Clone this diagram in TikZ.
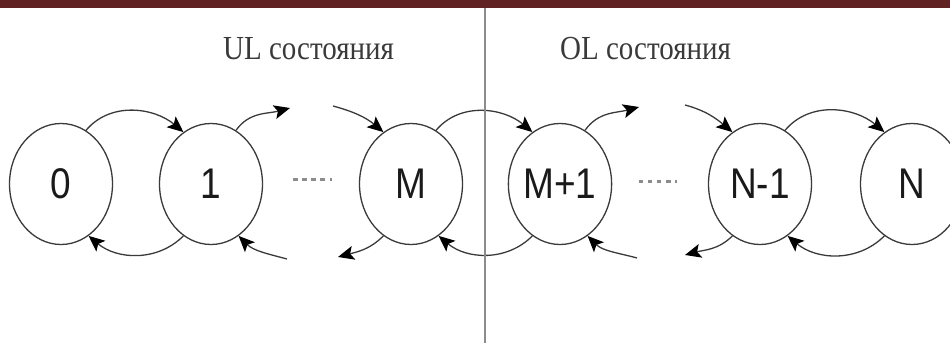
\documentclass[tikz,border=0pt]{standalone}
\usepackage{fontspec}
\setmainfont{Liberation Serif}
\newfontfamily\labfont{Liberation Sans}
\usetikzlibrary{arrows.meta,shapes.geometric}
\definecolor{linec}{HTML}{3A3A3A}
\definecolor{textc}{HTML}{1A1A1A}
\definecolor{ttlc}{HTML}{3A3A3A}
\definecolor{barc}{HTML}{602222}
\definecolor{vlinec}{HTML}{8C8C8C}
\newcommand{\vstretch}[1]{\scalebox{1}[1.16]{#1}}
\begin{document}
\begin{tikzpicture}[x=1pt,y=1pt,
  st/.style={ellipse,draw=linec,line width=1.3pt,minimum width=103pt,minimum height=121pt,inner sep=0pt,font=\labfont\fontsize{37}{40}\selectfont,text=textc},
  tr/.style={draw=linec,line width=1.3pt,-{Stealth[length=16pt,width=14pt,inset=3.5pt,fill=black,color=black]}},
  dotline/.style={draw=vlinec,line width=3pt,dash pattern=on 4.5pt off 4.6pt},
  ttl/.style={anchor=base west,inner sep=0pt,font=\fontsize{29}{32}\selectfont,text=ttlc},
  vline/.style={draw=vlinec,line width=2.5pt}]
\useasboundingbox (0,0) rectangle (950,343);
\clip (0,0) rectangle (950,343);
% top bar
\fill[barc] (0,335) rectangle (950,343);
% titles
\node[ttl] (ul) at (223,283) {\vstretch{UL состояния}};
\node[ttl] (ol) at (560,283) {\vstretch{OL состояния}};
% states
\node[st] (s0)  at (61,159)  {\vstretch{0}};
\node[st] (s1)  at (211,159) {\vstretch{1}};
\node[st] (sM)  at (411,159) {\vstretch{M}};
\node[st] (sM1) at (560,159) {\vstretch{M+1}};
\node[st] (sN1) at (760,159) {\vstretch{N-1}};
\node[st] (sN)  at (912,159) {\vstretch{N}};
% free ends
\coordinate (a1) at (290,235);
\coordinate (b1) at (333,237);
\coordinate (a2) at (639,236);
\coordinate (b2) at (685,238);
\coordinate (c1) at (287,84);
\coordinate (d1) at (338,86);
\coordinate (c2) at (637,85);
\coordinate (d2) at (685,88);
% top arcs
\draw[tr] (s0.65) to[out=50,in=140] (s1.118);
\draw[tr] (sM.65) to[out=50,in=140] (sM1.118);
\draw[tr] (sN1.65) to[out=50,in=140] (sN.118);
\draw[tr] (s1.65) to[out=55,in=195] (a1);
\draw[tr] (sM1.65) to[out=55,in=195] (a2);
\draw[tr] (b1) to[out=-15,in=140] (sM.118);
\draw[tr] (b2) to[out=-15,in=140] (sN1.118);
% bottom arcs
\draw[tr] (s1.-118) to[out=225,in=-40] (s0.-62);
\draw[tr] (sM1.-118) to[out=225,in=-40] (sM.-62);
\draw[tr] (sN.-118) to[out=225,in=-40] (sN1.-62);
\draw[tr] (c1) to[out=165,in=-45] (s1.-62);
\draw[tr] (c2) to[out=165,in=-45] (sM1.-62);
\draw[tr] (sM.-118) to[out=225,in=15] (d1);
\draw[tr] (sN1.-118) to[out=225,in=15] (d2);
% dots
\draw[dotline,shorten <=30pt,shorten >=26.5pt] ([yshift=4pt]s1.east) -- ([yshift=4pt]sM.west);
\draw[dotline,shorten <=26.5pt,shorten >=30.5pt] ([yshift=2pt]sM1.east) -- ([yshift=2pt]sN1.west);
% divider
\coordinate (vtop) at (485,335);
\coordinate (vbot) at (485,0);
\draw[vline] (vtop) -- (vbot);
\end{tikzpicture}
\end{document}
